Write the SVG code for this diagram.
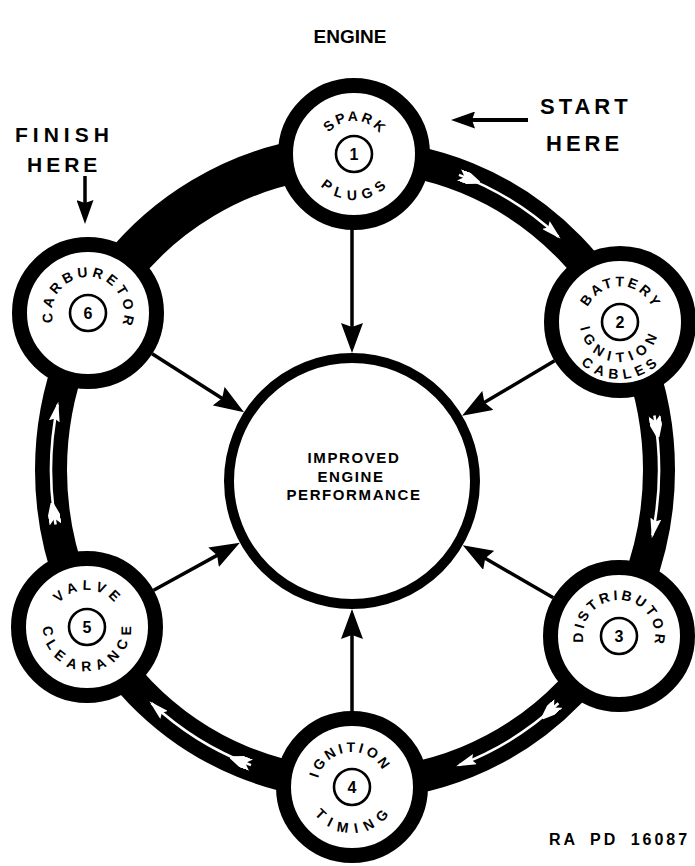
<svg xmlns="http://www.w3.org/2000/svg" width="695" height="866" viewBox="0 0 695 866">
<style>
  text { font-family: "Liberation Sans", Arial, sans-serif; font-weight: bold; fill: #000; }
  .lbl { font-size: 14px; text-anchor: middle; }
  .num { font-size: 16px; text-anchor: middle; }
  .node { fill: #fff; stroke: #000; stroke-width: 15; }
  .numc { fill: none; stroke: #000; stroke-width: 2.6; }
  .spoke { stroke: #000; stroke-width: 3.5; fill: none; marker-end: url(#ah); }
  .warrow { stroke: #fff; stroke-width: 2.6; fill: none; marker-end: url(#wh); marker-start: url(#wt); }
  .ctr { font-size: 15px; text-anchor: middle; letter-spacing: 1.6px; }
  .big { font-size: 22px; letter-spacing: 4px; }
</style>
<defs>
  <marker id="ah" markerUnits="userSpaceOnUse" markerWidth="30" markerHeight="22" viewBox="0 0 30 22" refX="20" refY="11" orient="auto">
    <path d="M0,0 L30,11 L0,22 L4,11 Z" fill="#000"/>
  </marker>
  <marker id="ah2" markerUnits="userSpaceOnUse" markerWidth="24" markerHeight="17" viewBox="0 0 24 17" refX="14" refY="8.5" orient="auto">
    <path d="M0,0 L24,8.5 L0,17 L3,8.5 Z" fill="#000"/>
  </marker>
  <marker id="wh" markerUnits="userSpaceOnUse" markerWidth="20" markerHeight="11" viewBox="0 0 20 11" refX="17" refY="5.5" orient="auto">
    <path d="M0,0 L20,5.5 L0,11 L3,5.5 Z" fill="#fff"/>
  </marker>
  <marker id="wt" markerUnits="userSpaceOnUse" markerWidth="22" markerHeight="12" viewBox="0 -6 22 12" refX="0" refY="0" orient="auto">
    <path d="M0,-6 L6,0 L0,6 L10,6 L22,1.3 L22,-1.3 L10,-6 Z" fill="#fff"/>
  </marker>
  <path id="t33" d="M-28.58,16.5 A33,33 0 1 1 28.58,16.5"/>
  <path id="t35" d="M-30.31,17.5 A35,35 0 1 1 30.31,17.5"/>
  <path id="t355" d="M-30.74,17.75 A35.5,35.5 0 1 1 30.74,17.75"/>
  <path id="t36" d="M-31.18,18 A36,36 0 1 1 31.18,18"/>
  <path id="t37" d="M-32.04,18.5 A37,37 0 1 1 32.04,18.5"/>
  <path id="b40" d="M-34.64,-20 A40,40 0 1 0 34.64,-20"/>
  <path id="b44" d="M-38.11,-22 A44,44 0 1 0 38.11,-22"/>
  <path id="b46" d="M-39.84,-23 A46,46 0 1 0 39.84,-23"/>
  <path id="b57" d="M-49.36,-28.5 A57,57 0 1 0 49.36,-28.5"/>
</defs>

<rect width="695" height="866" fill="#fff"/>

<text x="350" y="43" text-anchor="middle" font-size="19">ENGINE</text>

<g id="connectors">
  <ellipse cx="355" cy="470" rx="304" ry="314" fill="none" stroke="#000" stroke-width="32"/>
  <path d="M91.7,313 A304,314 0 0 1 355,156" fill="none" stroke="#000" stroke-width="42"/>
  <path class="warrow" d="M459.0,174.9 A304,314 0 0 1 558.4,236.7"/>
  <path class="warrow" d="M654.4,415.5 A304,314 0 0 1 652.4,535.3"/>
  <path class="warrow" d="M558.4,703.3 A304,314 0 0 1 459.0,765.1"/>
  <path class="warrow" d="M251.0,765.1 A304,314 0 0 1 151.6,703.3"/>
  <path class="warrow" d="M55.6,524.5 A304,314 0 0 1 57.7,404.7"/>
  <line class="spoke" x1="352" y1="228" x2="352" y2="343"/>
  <line class="spoke" x1="352" y1="712" x2="352" y2="619"/>
  <line class="spoke" x1="152.1" y1="353.8" x2="235.6" y2="406.9"/>
  <line class="spoke" x1="153.6" y1="590.3" x2="231.1" y2="547.6"/>
  <line class="spoke" x1="554.6" y1="360.8" x2="470.7" y2="410.6"/>
  <line class="spoke" x1="553.3" y1="597.8" x2="471.4" y2="550.3"/>
  <line x1="528" y1="120" x2="461" y2="120" stroke="#000" stroke-width="4" marker-end="url(#ah2)"/>
  <line x1="85" y1="176" x2="85" y2="214" stroke="#000" stroke-width="3.5" marker-end="url(#ah2)"/>
</g>

<g id="center">
  <circle cx="352" cy="481" r="123" fill="#fff" stroke="#000" stroke-width="10"/>
  <text class="ctr" x="354" y="463">IMPROVED</text>
  <text class="ctr" x="351" y="482">ENGINE</text>
  <text class="ctr" x="354" y="500">PERFORMANCE</text>
</g>

<g id="n1" transform="translate(354,154)">
  <circle class="node" r="68.5"/>
  <circle class="numc" r="18"/>
  <text class="num" y="5.8">1</text>
  <text class="lbl" letter-spacing="2.5"><textPath href="#t33" startOffset="70.3">SPARK</textPath></text>
  <text class="lbl" letter-spacing="6.3"><textPath href="#b46" startOffset="98.6">PLUGS</textPath></text>
</g>

<g id="n2" transform="translate(620,322)">
  <circle class="node" r="68.5"/>
  <circle class="numc" r="18"/>
  <text class="num" y="5.8">2</text>
  <text class="lbl" letter-spacing="2.7"><textPath href="#t355" startOffset="75.4">BATTERY</textPath></text>
  <text class="lbl" letter-spacing="6.1"><textPath href="#b40" startOffset="82">IGNITION</textPath></text>
  <text class="lbl" letter-spacing="5.3"><textPath href="#b57" startOffset="121">CABLES</textPath></text>
</g>

<g id="n3" transform="translate(619,636)">
  <circle class="node" r="68.5"/>
  <circle class="numc" r="18"/>
  <text class="num" y="5.8">3</text>
  <text class="lbl" letter-spacing="3.1"><textPath href="#t36" startOffset="77">DISTRIBUTOR</textPath></text>
</g>

<g id="n4" transform="translate(352,787)">
  <circle class="node" r="68.5"/>
  <circle class="numc" r="18"/>
  <text class="num" y="5.8">4</text>
  <text class="lbl" letter-spacing="3"><textPath href="#t35" startOffset="69.9">IGNITION</textPath></text>
  <text class="lbl" letter-spacing="7.4"><textPath href="#b46" startOffset="99.6">TIMING</textPath></text>
</g>

<g id="n5" transform="translate(87,627)">
  <circle class="node" r="68.5"/>
  <circle class="numc" r="18"/>
  <text class="num" y="5.8">5</text>
  <text class="lbl" letter-spacing="4.7"><textPath href="#t37" startOffset="78.9">VALVE</textPath></text>
  <text class="lbl" letter-spacing="6.35"><textPath href="#b44" startOffset="95.4">CLEARANCE</textPath></text>
</g>

<g id="n6" transform="translate(88,313)">
  <circle class="node" r="68.5"/>
  <circle class="numc" r="18"/>
  <text class="num" y="5.8">6</text>
  <text class="lbl" letter-spacing="3.8"><textPath href="#t36" startOffset="77.9">CARBURETOR</textPath></text>
</g>

<g id="notes">
  <text class="big" x="540" y="114">START</text>
  <text class="big" x="546" y="151">HERE</text>
  <text x="15" y="142" font-size="21" letter-spacing="5">FINISH</text>
  <text x="27" y="172" font-size="21" letter-spacing="4">HERE</text>
  <text x="549" y="845" font-size="16" letter-spacing="3" word-spacing="5">RA PD 16087</text>
</g>
</svg>
